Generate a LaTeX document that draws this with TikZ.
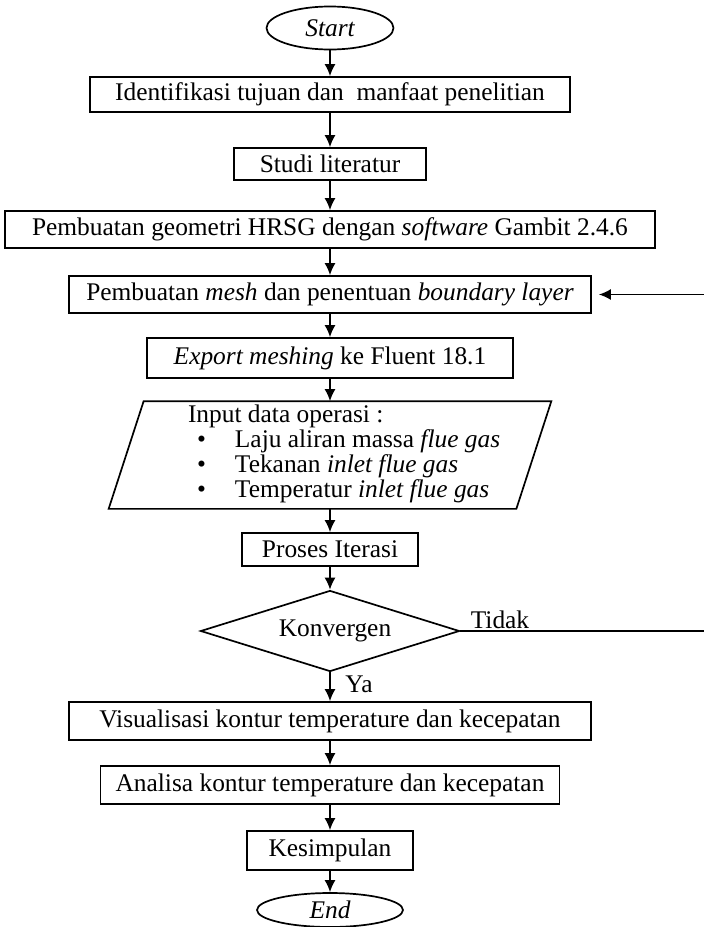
\documentclass[tikz,border=0pt]{standalone}
\usepackage{fontspec}
\setmainfont{Liberation Serif}
\usetikzlibrary{shapes.geometric,arrows.meta}

\tikzset{
  kotak/.style={draw, inner sep=0pt, align=center},
  terminal/.style={draw, ellipse, inner sep=0pt, font=\itshape},
  putusan/.style={draw, diamond, inner sep=0pt, aspect=3.2}
}

\begin{document}
\begin{tikzpicture}[x=0.5pt, y=-0.5pt, line width=0.85pt, >={Latex[length=6pt,width=5.5pt]}]
            \fontsize{12.7}{11.75}\selectfont
            \path[use as bounding box, clip] (0,0) rectangle (704,927);
            \node[terminal, minimum width=63.5pt, minimum height=21.5pt] (start) at (330,28) {Start};
            \node[kotak, minimum width=240pt, minimum height=17.5pt] (tujuan) at (330,94.5) {Identifikasi tujuan dan \ manfaat penelitian};
            \node[kotak, minimum width=96pt, minimum height=16pt] (studi) at (330,164) {Studi literatur};
            \node[kotak, minimum width=325pt, minimum height=18.5pt] (geometri) at (330,229.5) {Pembuatan geometri HRSG dengan \textit{software} Gambit 2.4.6};
            \node[kotak, minimum width=261pt, minimum height=18.5pt] (mesh) at (330,294.5) {Pembuatan \textit{mesh} dan penentuan \textit{boundary layer}};
            \node[kotak, minimum width=183pt, minimum height=20pt] (export) at (330,358) {\textit{Export meshing} ke Fluent 18.1};
            \node[inner sep=0pt, minimum height=53pt] (input) at (330,455) {\makebox[203pt][l]{\hspace{30.5pt}\begin{tabular}{@{}l@{}}
                Input data operasi :\\
                \makebox[23.5pt][l]{\hspace{4.5pt}\textbullet}Laju aliran massa \textit{flue gas}\\
                \makebox[23.5pt][l]{\hspace{4.5pt}\textbullet}Tekanan \textit{inlet flue gas}\\
                \makebox[23.5pt][l]{\hspace{4.5pt}\textbullet}Temperatur \textit{inlet flue gas}
            \end{tabular}}};
            \draw ([xshift=8.75pt]input.north west) -- ([xshift=8.75pt]input.north east)
            -- ([xshift=-8.75pt]input.south east) -- ([xshift=-8.75pt]input.south west) -- cycle;
            \node[kotak, minimum width=88pt, minimum height=16.5pt] (iterasi) at (330,549.5) {Proses Iterasi};
            \node[putusan, minimum width=129.5pt, minimum height=40.5pt] (konvergen) at (330,631) {\hspace{5pt}Konvergen};
            \node[kotak, minimum width=261pt, minimum height=19pt] (visual) at (330,721) {Visualisasi kontur temperature dan kecepatan};
            \node[kotak, minimum width=229.5pt, minimum height=19pt] (analisa) at (330,785) {Analisa kontur temperature dan kecepatan};
            \node[kotak, minimum width=83pt, minimum height=19.5pt] (kesimpulan) at (330,850.5) {Kesimpulan};
            \node[terminal, minimum width=73pt, minimum height=17pt] (end) at (330,910) {End};
            \node (tidak) at (500,620) {Tidak};
            \node (ya) at (359,684) {Ya};
            \coordinate (balik) at (708,631);
            \draw[->] (start) -- (tujuan);
            \draw[->] (tujuan) -- (studi);
            \draw[->] (studi) -- (geometri);
            \draw[->] (geometri) -- (mesh);
            \draw[->] (mesh) -- (export);
            \draw[->] (export) -- (input);
            \draw[->] (input) -- (iterasi);
            \draw[->] (iterasi) -- (konvergen);
            \draw[->] (konvergen) -- (visual);
            \draw[->] (visual) -- (analisa);
            \draw[->] (analisa) -- (kesimpulan);
            \draw[->] (kesimpulan) -- (end);
            \draw[->] (konvergen.east) -- (balik) |- ([xshift=3.5pt]mesh.east);
        \end{tikzpicture}
\end{document}
